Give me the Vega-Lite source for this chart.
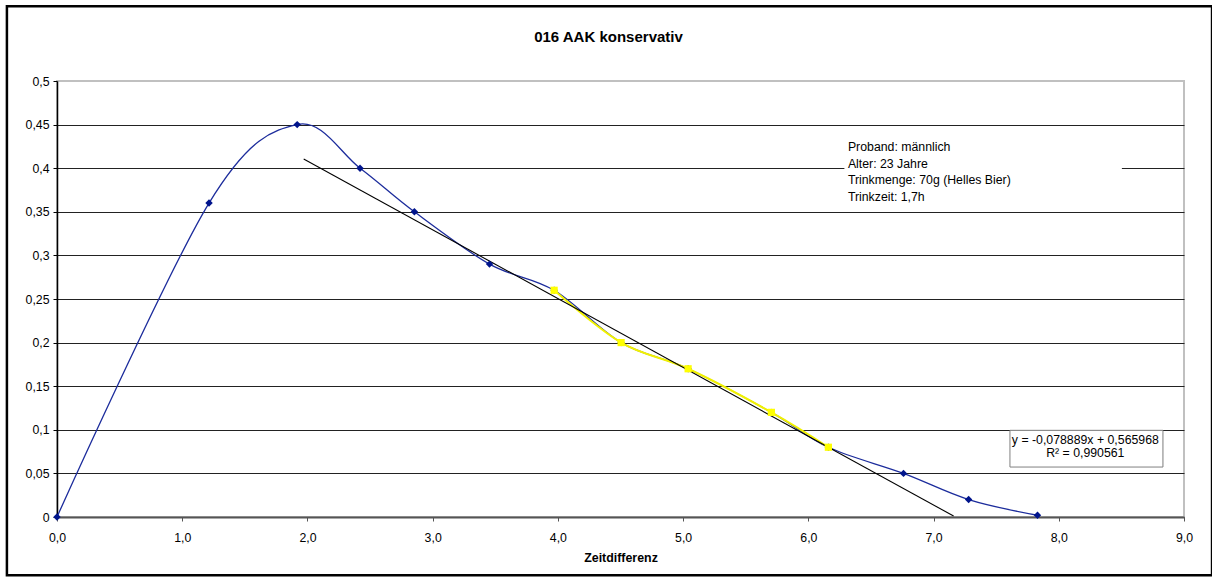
{
  "$schema": "https://vega.github.io/schema/vega-lite/v6.json",
  "width": 1127,
  "height": 436,
  "autosize": {"type": "none"},
  "padding": {"left": 57, "top": 81, "right": 28, "bottom": 64},
  "background": "white",
  "config": {
    "font": "Liberation Sans",
    "view": {"stroke": "#c0c0c0", "strokeWidth": 2}
  },
  "datasets": {
    "messung": [
      {"zeit": 0.0, "aak": 0.0},
      {"zeit": 1.214, "aak": 0.36},
      {"zeit": 1.918, "aak": 0.45},
      {"zeit": 2.42, "aak": 0.40},
      {"zeit": 2.854, "aak": 0.35},
      {"zeit": 3.454, "aak": 0.29},
      {"zeit": 3.97, "aak": 0.26},
      {"zeit": 4.505, "aak": 0.20},
      {"zeit": 5.04, "aak": 0.17},
      {"zeit": 5.705, "aak": 0.12},
      {"zeit": 6.16, "aak": 0.08},
      {"zeit": 6.76, "aak": 0.05},
      {"zeit": 7.28, "aak": 0.02},
      {"zeit": 7.83, "aak": 0.002}
    ],
    "abbau": [
      {"zeit": 3.97, "aak": 0.26},
      {"zeit": 4.505, "aak": 0.20},
      {"zeit": 5.04, "aak": 0.17},
      {"zeit": 5.705, "aak": 0.12},
      {"zeit": 6.16, "aak": 0.08}
    ],
    "trend": [
      {"zeit": 1.97, "aak": 0.410557},
      {"zeit": 7.16, "aak": 0.001123}
    ]
  },
  "layer": [
    {
      "data": {"name": "messung"},
      "mark": {"type": "line", "interpolate": "cardinal", "color": "#1c2c9c", "strokeWidth": 1.3},
      "encoding": {
        "x": {
          "field": "zeit",
          "type": "quantitative",
          "scale": {"domain": [0, 9], "nice": false, "zero": false},
          "axis": {
            "title": "Zeitdifferenz",
            "values": [0, 1, 2, 3, 4, 5, 6, 7, 8, 9],
            "labelExpr": "replace(format(datum.value, '.1f'), '.', ',')",
            "grid": false,
            "domainColor": "#555555",
            "domainWidth": 2,
            "tickColor": "#555555",
            "tickSize": 4,
            "labelPadding": 10,
            "labelFontSize": 12.3,
            "labelColor": "#000000",
            "labelFlush": false,
            "labelOverlap": false,
            "titleFontSize": 12.4,
            "titleFontWeight": "bold",
            "titleColor": "#000000",
            "titlePadding": 8
          }
        },
        "y": {
          "field": "aak",
          "type": "quantitative",
          "scale": {"domain": [0, 0.5], "nice": false},
          "axis": {
            "title": null,
            "values": [0, 0.05, 0.1, 0.15, 0.2, 0.25, 0.3, 0.35, 0.4, 0.45, 0.5],
            "labelExpr": "replace(format(datum.value, '.2~f'), '.', ',')",
            "grid": true,
            "gridColor": {"condition": {"test": "datum.value >= 0.5", "value": "#c0c0c0"}, "value": "#222222"},
            "gridWidth": 1,
            "domainColor": "#000000",
            "domainWidth": 1.5,
            "tickColor": "#000000",
            "tickSize": 4,
            "labelPadding": 4,
            "labelFontSize": 12.3,
            "labelColor": "#000000",
            "labelFlush": false,
            "labelOverlap": false
          }
        }
      }
    },
    {
      "data": {"name": "abbau"},
      "mark": {"type": "line", "interpolate": "cardinal", "color": "#f2f200", "strokeWidth": 2},
      "encoding": {
        "x": {"field": "zeit", "type": "quantitative"},
        "y": {"field": "aak", "type": "quantitative"}
      }
    },
    {
      "data": {"name": "trend"},
      "mark": {"type": "line", "color": "#000000", "strokeWidth": 1.1},
      "encoding": {
        "x": {"field": "zeit", "type": "quantitative"},
        "y": {"field": "aak", "type": "quantitative"}
      }
    },
    {
      "data": {"name": "messung"},
      "mark": {"type": "point", "shape": "diamond", "filled": true, "color": "#00148c", "size": 55, "opacity": 1},
      "encoding": {
        "x": {"field": "zeit", "type": "quantitative"},
        "y": {"field": "aak", "type": "quantitative"}
      }
    },
    {
      "data": {"name": "abbau"},
      "mark": {"type": "point", "shape": "square", "filled": true, "color": "#ffff00", "size": 52, "opacity": 1},
      "encoding": {
        "x": {"field": "zeit", "type": "quantitative"},
        "y": {"field": "aak", "type": "quantitative"}
      }
    },
    {
      "data": {"values": [{}]},
      "mark": {"type": "rect", "fill": "#ffffff", "stroke": null},
      "encoding": {
        "x": {"datum": 6.288, "type": "quantitative"},
        "x2": {"datum": 8.504},
        "y": {"datum": 0.434, "type": "quantitative"},
        "y2": {"datum": 0.357}
      }
    },
    {
      "data": {"values": [{}]},
      "mark": {
        "type": "text",
        "text": ["Proband: männlich", "Alter: 23 Jahre", "Trinkmenge: 70g (Helles Bier)", "Trinkzeit: 1,7h"],
        "align": "left",
        "baseline": "alphabetic",
        "lineHeight": 16.5,
        "fontSize": 12.3,
        "color": "#000000"
      },
      "encoding": {
        "x": {"datum": 6.316, "type": "quantitative"},
        "y": {"datum": 0.4197, "type": "quantitative"}
      }
    },
    {
      "data": {"values": [{}]},
      "mark": {"type": "rect", "fill": "#000000", "stroke": null, "xOffset": 3, "yOffset": 3},
      "encoding": {
        "x": {"datum": 7.61, "type": "quantitative"},
        "x2": {"datum": 8.832},
        "y": {"datum": 0.0994, "type": "quantitative"},
        "y2": {"datum": 0.0573}
      }
    },
    {
      "data": {"values": [{}]},
      "mark": {"type": "rect", "fill": "#ffffff", "stroke": "#808080", "strokeWidth": 1},
      "encoding": {
        "x": {"datum": 7.61, "type": "quantitative"},
        "x2": {"datum": 8.832},
        "y": {"datum": 0.0994, "type": "quantitative"},
        "y2": {"datum": 0.0573}
      }
    },
    {
      "data": {"values": [{}]},
      "mark": {
        "type": "text",
        "text": ["y = -0,078889x + 0,565968", "R² = 0,990561"],
        "align": "center",
        "baseline": "alphabetic",
        "lineHeight": 12.5,
        "fontSize": 12.3,
        "color": "#000000"
      },
      "encoding": {
        "x": {"datum": 8.212, "type": "quantitative"},
        "y": {"datum": 0.0834, "type": "quantitative"}
      }
    },
    {
      "data": {"values": [{}]},
      "mark": {
        "type": "text",
        "text": "016 AAK konservativ",
        "align": "center",
        "baseline": "alphabetic",
        "fontSize": 15,
        "fontWeight": "bold",
        "color": "#000000"
      },
      "encoding": {
        "x": {"datum": 4.404, "type": "quantitative"},
        "y": {"datum": 0.5444, "type": "quantitative"}
      }
    },
    {
      "data": {"values": [{}]},
      "mark": {"type": "rect", "fill": null, "stroke": "#000000", "strokeWidth": 2.5},
      "encoding": {
        "x": {"datum": -0.4, "type": "quantitative"},
        "x2": {"datum": 9.224},
        "y": {"datum": 0.5857, "type": "quantitative"},
        "y2": {"datum": -0.0669}
      }
    }
  ]
}
